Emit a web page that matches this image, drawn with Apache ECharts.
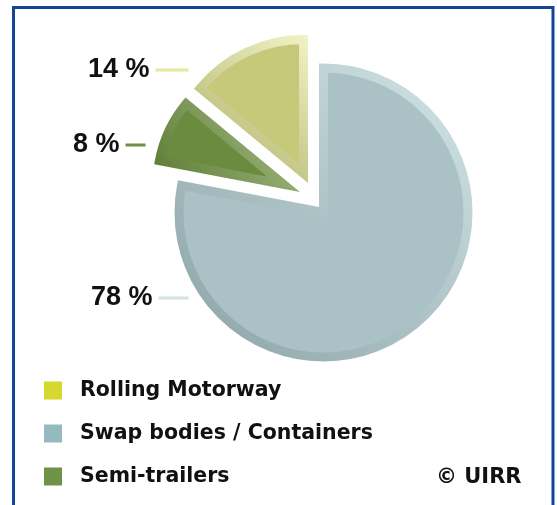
<!DOCTYPE html>
<html>
<head>
<meta charset="UTF-8">
<title>UIRR</title>
<script src="https://cdn.jsdelivr.net/npm/echarts@6/dist/echarts.min.js"></script>
<style>html,body{margin:0;padding:0;background:#fff;}</style>
</head>
<body>
<div id="main" style="width:557px;height:505px;"></div>
<script>
// clockwise from 12 o'clock
var names = ['Swap bodies / Containers', 'Semi-trailers', 'Rolling Motorway'];
var shares = [78, 8, 14];
var legendOrder = ['Rolling Motorway', 'Swap bodies / Containers', 'Semi-trailers'];
var legendColors = ['#d6d72f', '#93bbbf', '#6f9346'];

var sliceFill = ['#aac2c5', '#6b8c3f', '#c6c97a'];
var sliceEdge = [['#d3e5e7', '#8aa2a6'], ['#a8bd86', '#5a7933'], ['#f1f3c6', '#adb067']];
var lineColors = ['#d3e3e3', '#6e8f45', '#e6e89a'];
// each slice pulled out on its own; the bevel border (miter) widens them back to the outline
var centers = [[323.5, 212.5], [283.6, 184.3], [303.5, 173.4]];
var radii = [144.5, 126.4, 133.9];
var labelPos = [[91, 298], [73, 145], [88, 70]];
var lineLen = [30, 20, 33];

var myChart = echarts.init(document.getElementById('main'));

var series = names.map(function (own, i) {
	return {
		type: 'pie',
		center: centers[i],
		radius: [0, radii[i]],
		startAngle: 90,
		avoidLabelOverlap: false,
		silent: true,
		label: {
			position: 'outside',
			formatter: function (p) {
				return '{t|' + p.value + ' %}{s| }{l| }';
			},
			rich: {
				t: { fontFamily: 'Liberation Sans', fontWeight: 'bold', fontSize: 27, color: '#111', lineHeight: 30 },
				s: { width: 6, fontSize: 1 },
				l: { width: lineLen[i], height: 3, lineHeight: 3, fontSize: 1, backgroundColor: lineColors[i] }
			}
		},
		labelLine: { show: false },
		labelLayout: function (p) {
			return { x: labelPos[p.dataIndex][0], y: labelPos[p.dataIndex][1], align: 'left', verticalAlign: 'middle' };
		},
		data: names.map(function (n, j) {
			if (j !== i) {
				return { name: n, value: shares[j], itemStyle: { color: 'rgba(0,0,0,0)', borderWidth: 0 }, label: { show: false } };
			}
			return {
				name: n,
				value: shares[j],
				itemStyle: {
					color: sliceFill[j],
					borderWidth: 9,
					borderJoin: 'miter',
					borderMiterLimit: 10,
					borderColor: {
						type: 'linear', x: 1, y: 0, x2: 0, y2: 1,
						colorStops: [{ offset: 0, color: sliceEdge[j][0] }, { offset: 1, color: sliceEdge[j][1] }]
					}
				}
			};
		})
	};
});

myChart.setOption({
	animation: false,
	legend: {
		orient: 'vertical',
		left: 44,
		top: 380,
		padding: 0,
		itemWidth: 18,
		itemHeight: 18,
		itemGap: 22,
		icon: 'rect',
		selectedMode: false,
		textStyle: { fontFamily: 'DejaVu Sans', fontWeight: 'bold', fontSize: 20.5, color: '#111', padding: [0, 0, 0, 13] },
		data: legendOrder.map(function (n, k) {
			return { name: n, itemStyle: { color: legendColors[k], borderWidth: 0 } };
		})
	},
	graphic: [
		{ type: 'rect', shape: { x: 13.5, y: 7.5, width: 539.5, height: 600 }, style: { fill: 'none', stroke: '#134594', lineWidth: 3 } },
		{ type: 'text', left: 436, top: 467, style: { text: '© UIRR', font: 'bold 21px "DejaVu Sans"', fill: '#111' } }
	],
	series: series
});
</script>
</body>
</html>
